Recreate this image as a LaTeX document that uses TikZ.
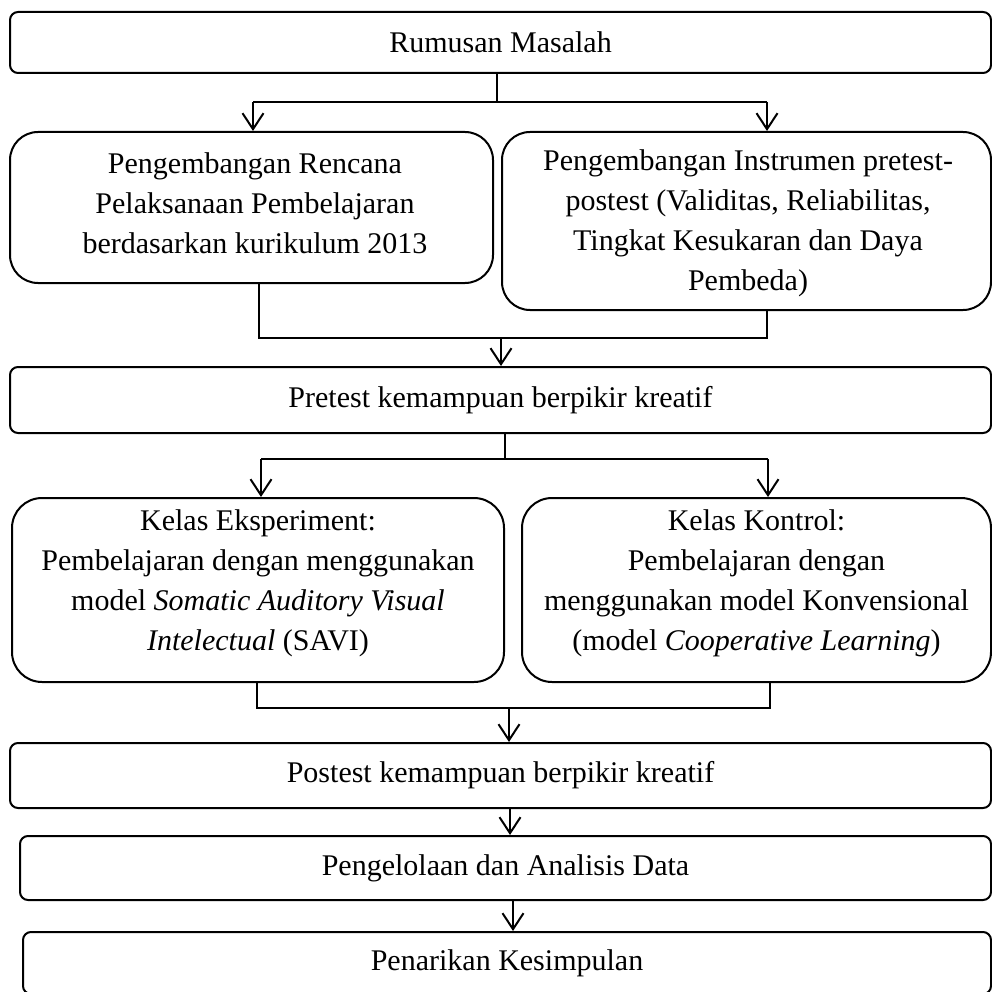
\documentclass[tikz,border=0pt]{standalone}
\usepackage{fontspec}
\setmainfont{Liberation Serif}
\usetikzlibrary{arrows.meta}
\tikzset{
  box/.style={draw, line width=2pt, rectangle, inner sep=0pt, align=center,
    font=\fontsize{30}{40}\selectfont},
  txt/.style={inner sep=0pt, align=center, font=\fontsize{30}{40}\selectfont},
  line/.style={line width=2pt},
  arr/.style={line width=2pt, -{Straight Barb[length=16pt,width=21pt,line width=2pt]}}
}
\begin{document}
\begin{tikzpicture}[x=1pt,y=-1pt]
\useasboundingbox (0,0) rectangle (992,992);
% boxes
\node[box, rounded corners=8pt, minimum width=981pt, minimum height=61pt] (b1) at (500.5,42.5) {Rumusan Masalah};
\node[box, rounded corners=28pt, minimum width=483pt, minimum height=151pt] (b2a) at (251.5,207.5) {};
\node[txt] (t2a) at (255,203)
  {Pengembangan Rencana\\Pelaksanaan Pembelajaran\\berdasarkan kurikulum 2013};
\node[box, rounded corners=28pt, minimum width=489pt, minimum height=178pt] (b2b) at (746.5,221) {};
\node[txt] (t2b) at (748,223)
  {Pengembangan Instrumen pretest-\\postest (Validitas, Reliabilitas,\\Tingkat Kesukaran dan Daya\\Pembeda)};
\node[box, rounded corners=8pt, minimum width=981pt, minimum height=66pt] (b3) at (500.5,400) {Pretest kemampuan berpikir kreatif};
\node[box, rounded corners=30pt, minimum width=492pt, minimum height=184pt] (b4a) at (258,590) {};
\node[txt] (t4a) at (258,583)
  {Kelas Eksperiment:\\Pembelajaran dengan menggunakan\\model \textit{Somatic Auditory Visual}\\\textit{Intelectual} (SAVI)};
\node[box, rounded corners=30pt, minimum width=469pt, minimum height=184pt] (b4b) at (756.5,590) {};
\node[txt] (t4b) at (756.5,583)
  {Kelas Kontrol:\\Pembelajaran dengan\\menggunakan model Konvensional\\(model \textit{Cooperative Learning})};
\node[box, rounded corners=8pt, minimum width=981pt, minimum height=65pt] (b5) at (500.5,775.5) {Postest kemampuan berpikir kreatif};
\node[box, rounded corners=8pt, minimum width=971pt, minimum height=64pt] (b6) at (505.5,868) {Pengelolaan dan Analisis Data};
\node[box, rounded corners=8pt, minimum width=968pt, minimum height=62pt] (b7) at (507,963) {Penarikan Kesimpulan};
% connector points
\coordinate (j1) at (497,102);
\coordinate (l1) at (253,102);
\coordinate (r1) at (767,102);
\coordinate (c2l) at (259,338);
\coordinate (c2r) at (767,338);
\coordinate (c2m) at (501,338);
\coordinate (j3) at (505,459);
\coordinate (l3) at (261,459);
\coordinate (r3) at (768,459);
\coordinate (c4l) at (257,708);
\coordinate (c4r) at (770,708);
\coordinate (c4m) at (509,708);
\coordinate (a5) at (510,820);
\coordinate (a6) at (513,915);
% connectors
\draw[line] (j1 |- b1.south) -- (j1);
\draw[line] (l1) -- (r1);
\draw[arr] (l1) -- (l1 |- b2a.north);
\draw[arr] (r1) -- (r1 |- b2b.north);
\draw[line] (c2l |- b2a.south) -- (c2l) -- (c2r) -- (c2r |- b2b.south);
\draw[arr] (c2m) -- (c2m |- b3.north);
\draw[line] (j3 |- b3.south) -- (j3);
\draw[line] (l3) -- (r3);
\draw[arr] (l3) -- (l3 |- b4a.north);
\draw[arr] (r3) -- (r3 |- b4b.north);
\draw[line] (c4l |- b4a.south) -- (c4l) -- (c4r) -- (c4r |- b4b.south);
\draw[arr] (c4m) -- (c4m |- b5.north);
\draw[arr] (a5 |- b5.south) -- (a5 |- b6.north);
\draw[arr] (a6 |- b6.south) -- (a6 |- b7.north);
\end{tikzpicture}
\end{document}
